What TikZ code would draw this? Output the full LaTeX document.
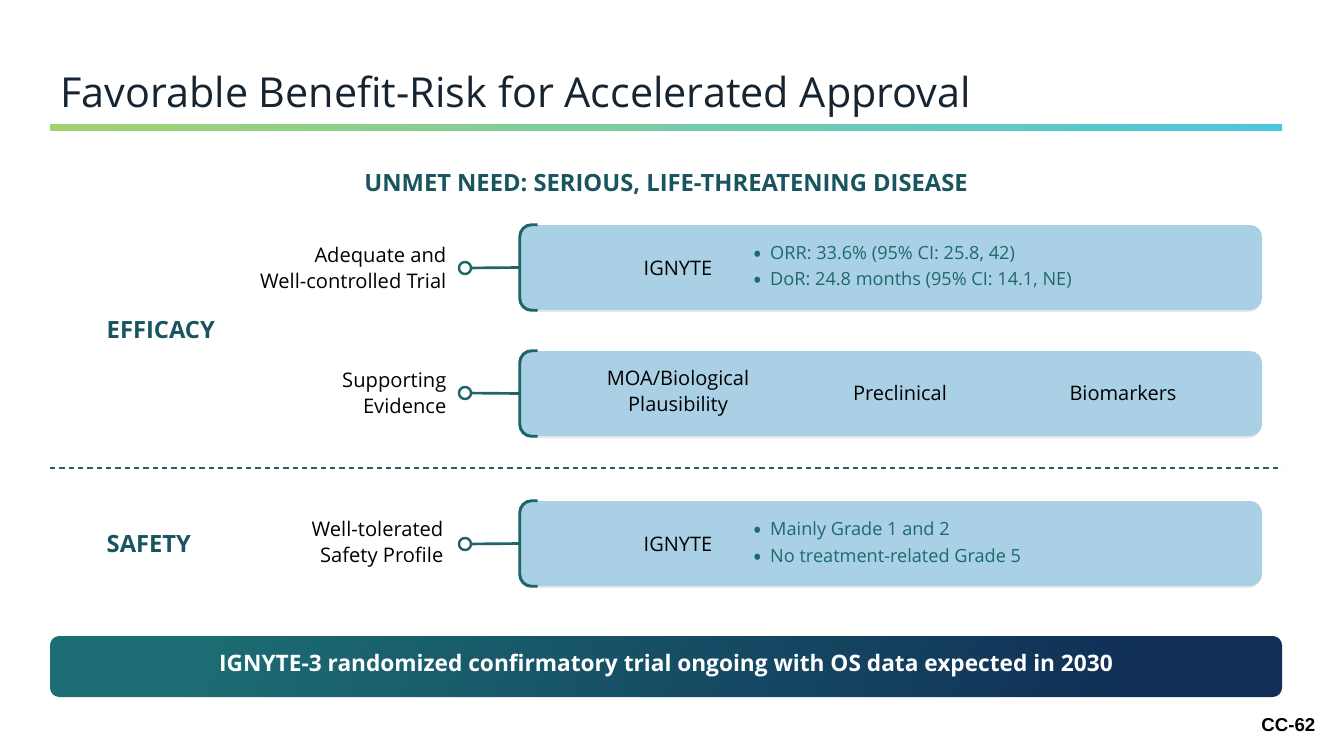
\documentclass[tikz,border=0pt]{standalone}
\usepackage{fontspec}
\setmainfont{Open Sans}
\newfontfamily\arialfont{Liberation Sans}
\usetikzlibrary{positioning,shadows}
\definecolor{deep-teal}{RGB}{25,85,95}
\definecolor{line-teal}{RGB}{30,100,105}
\definecolor{text-teal}{RGB}{28,105,112}
\definecolor{box-blue}{RGB}{169,208,228}
\definecolor{title-ink}{RGB}{22,36,50}
\definecolor{bar-green}{RGB}{163,210,112}
\definecolor{bar-cyan}{RGB}{75,198,222}
\definecolor{band-teal}{RGB}{28,110,116}
\definecolor{band-navy}{RGB}{16,46,86}
\newcommand{\dotmark}{\raisebox{-3pt}{\fontsize{19}{19}\selectfont\textbullet}\hspace{6pt}}
\tikzstyle{card}=[fill=box-blue,rounded corners=9pt,minimum width=556.5pt,minimum height=63.75pt,drop shadow={opacity=0.18,shadow xshift=-1pt,shadow yshift=-1.5pt}]
\tikzstyle{bracket}=[draw=line-teal,line width=2.2pt,rounded corners=9pt]
\tikzstyle{link}=[draw=line-teal,line width=2pt]
\tikzstyle{dot}=[circle,draw=line-teal,line width=1.8pt,fill=white,inner sep=0pt,minimum size=9pt]
\tikzstyle{label}=[anchor=east,align=right,font=\fontsize{15.1}{19.5}\selectfont,text=black]
\tikzstyle{head}=[anchor=west,font=\fontsize{17.8}{20}\selectfont\bfseries,text=deep-teal]
\tikzstyle{inbox}=[align=center,font=\fontsize{15}{19.5}\selectfont,text=black]
\tikzstyle{bullets}=[anchor=west,align=left,font=\fontsize{13.6}{20}\selectfont,text=text-teal]

\begin{document}
\begin{tikzpicture}[x=0.75pt,y=-0.75pt]
  \useasboundingbox (0,0) rectangle (1333,749);

  % Title
  \node [anchor=base west,inner sep=0pt,font=\fontsize{31}{36}\selectfont,text=title-ink] (title) at (60,107) {Favorable Benefit-Risk for Accelerated Approval};
  \shade [left color=bar-green,right color=bar-cyan] (50,124) rectangle (1282,130);

  \node [font=\fontsize{17.8}{20}\selectfont\bfseries,text=deep-teal] (need) at (666,184) {UNMET NEED: SERIOUS, LIFE-THREATENING DISEASE};

  % Sections
  \node [head] (eff) at (102,330) {EFFICACY};
  \node [head] (saf) at (102,544) {SAFETY};

  % Efficacy: trial
  \node [card] (box1) at (891,267.5) {};
  \draw [bracket] ([xshift=13.5pt]box1.north west) -- (box1.north west) -- (box1.south west) -- ([xshift=13.5pt]box1.south west);
  \node [label] (lab1) at (451,268) {Adequate and\\Well-controlled Trial};
  \node [dot] (dot1) at (465,268) {};
  \draw [link] (dot1) -- (box1.west);
  \node [inbox] (trial1) at (678,268) {IGNYTE};
  \node [bullets] (res1) at (748,268) {\dotmark ORR: 33.6\% (95\% CI: 25.8, 42)\\\dotmark DoR: 24.8 months (95\% CI: 14.1, NE)};

  % Efficacy: supporting
  \node [card] (box2) at (891,393.5) {};
  \draw [bracket] ([xshift=13.5pt]box2.north west) -- (box2.north west) -- (box2.south west) -- ([xshift=13.5pt]box2.south west);
  \node [label] (lab2) at (451,393) {Supporting\\Evidence};
  \node [dot] (dot2) at (465,393) {};
  \draw [link] (dot2) -- (box2.west);
  \node [inbox] (moa) at (678,393) {MOA/Biological\\Plausibility};
  \node [inbox] (pre) at (900,393) {Preclinical};
  \node [inbox] (bio) at (1123,393) {Biomarkers};

  \draw [line-teal,line width=0.9pt,dash pattern=on 4pt off 3pt] (50,468) -- (1282,468);

  % Safety
  \node [card] (box3) at (891,543.5) {};
  \draw [bracket] ([xshift=13.5pt]box3.north west) -- (box3.north west) -- (box3.south west) -- ([xshift=13.5pt]box3.south west);
  \node [label] (lab3) at (448,544) {Well-tolerated\\Safety Profile};
  \node [dot] (dot3) at (465,544) {};
  \draw [link] (dot3) -- (box3.west);
  \node [inbox] (trial3) at (678,544) {IGNYTE};
  \node [bullets] (res3) at (748,544) {\dotmark Mainly Grade 1 and 2\\\dotmark No treatment-related Grade 5};

  % Banner
  \shade [rounded corners=7pt,left color=band-teal,right color=band-navy,shading angle=70] (50,636) rectangle (1282,697);
  \node [font=\fontsize{17}{20}\selectfont\bfseries,text=white] (band) at (666,666) {IGNYTE-3 randomized confirmatory trial ongoing with OS data expected in 2030};

  \node [anchor=east,font=\arialfont\fontsize{14}{16}\selectfont\bfseries] (page) at (1320,725) {CC-62};
\end{tikzpicture}
\end{document}
